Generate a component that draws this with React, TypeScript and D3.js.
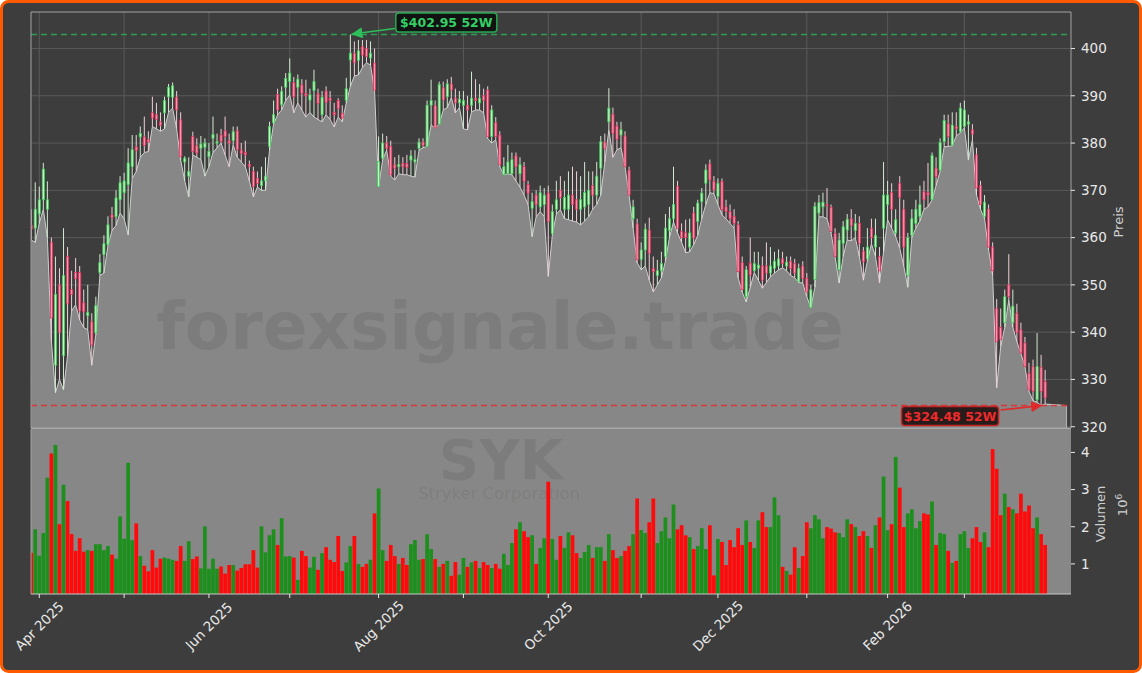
import React from "react";
import * as d3 from "d3";

const lows = [359.5,359,363,366,360,338,327.2,330,327.8,335,344.5,345.8,342.6,341,340.5,333,339.5,352,352.5,358.3,361.5,362.6,365.2,364,360.6,372.5,374,377,378,378.2,383.5,383,382.5,383,386.5,387.4,383,376.4,372,368.6,377.5,377,376.5,373,375,378,379,380,377.5,375,379.6,377,376,375,372,368.6,370.7,370,370,378.5,384,386,387,389,390.2,386.4,388.5,387,385.5,386.5,385.5,385,384.5,386,385,383.4,385.5,384.5,388.5,392,394.2,394.4,396,397,396.5,391,370.7,376.5,378.5,373,372.2,373.5,373.3,373.3,373,372.8,378.5,379,379.3,383.8,383.2,384,387,387.5,389.6,386.4,387.5,383,382.8,386.6,387,387,386.4,381,380,380.7,375,373.3,373.5,373.3,372,370.7,369,367,360.2,364.4,365.5,364.5,351.8,360.5,365,365.9,364,363.8,363.5,363.3,362.7,363.5,364.4,366,367,369,376,382.8,377,378.6,379,375,369,362,354.7,353.2,354,351,348.5,350,351.5,355,360,363.3,361,359,356.8,357,358.5,360.5,364,367,369.5,369.3,367,364.8,364,363,362,351.5,348.5,346.4,349.5,352.6,351,349.3,350.5,351.7,352.5,353.2,353.6,353,352,351.5,350.5,350.4,347.5,345.2,349.5,364.4,364.4,364,361,356,350.4,356,359.5,359.3,360,356,351,355,358.7,356,350.4,357,363.8,362,360.2,357.8,354,349.5,360,362,363.5,366,366.5,368,371,374,379.2,379.3,379.4,381.5,382.2,383.2,376.4,380.7,369,366,364,357.4,352,328.2,337,341,346.8,341,338,335.5,332.7,327.5,325.5,325.2,324.48,324.8];

const opens = [362.6,362,365,368,366,359,333,350,335,356,349,352.6,352.6,346.2,343.5,342.2,339.9,352.6,356.4,358.5,364.8,364.4,368,369.5,371.2,375,379.2,381.3,381.3,380.8,386.4,386,384.5,386.4,389.8,389.7,389.7,384.9,376,373,381.4,379.5,378.9,379.1,377.1,381,380,381.7,382.6,380.5,380.5,382.6,378.5,378,375.5,374,372.5,371,372,379.3,384.3,390.3,388.1,391.8,393,392.8,391.8,392.3,390.5,389.1,391.1,390.4,386,391,389.5,386.5,389,386.3,389,397.6,399,397.5,400.4,400,398,396.9,370.8,376.8,380,379.3,375.4,375,375.7,375.7,376.4,376,378.9,380.2,379.3,388,387.9,384,391.7,389.8,392.5,389.5,388.5,388,388,388,389.5,388.5,390,391.2,381.4,384.3,381.7,373.3,373.6,373.5,377.3,373.5,375,371.2,366.2,369,366.5,367,369.4,360.9,366,370,366,366,369,368,366,366.5,367,371,369,374.7,380.2,384.5,386.1,383.6,381.7,381.5,374.3,364,362.9,355.4,357.4,361.6,353.5,352,353,356,361.5,364,370.8,361.3,361,358,365.2,363.4,367.6,371.5,375.6,371.9,368.7,371.9,366.5,365.5,364.5,362.7,354.7,347.5,354.6,353,353.5,354,354,352.5,353.5,354,355.5,354,355,354.5,350.7,354,351.4,345.2,351.1,365.2,366.5,367,366.4,360.9,353.2,358.8,361.6,364,361.5,363,357.1,355.5,362,358,356,362,367,369.5,361,371.5,366,352,360.5,363,364.5,369.7,369.5,368,374.7,374.3,380.3,384.1,379.6,383.5,382.4,383.5,384,382.8,377.5,371,364.5,366,358,345,341,342,350,342,344,340.5,337.7,331.3,332.7,325.7,332.6,329.6];

const closes = [361.8,366,368,374.5,368,343,348,340,352,346,348,351.3,344.5,344.3,344.2,337.3,345.6,354.7,358.7,362.7,364.2,368.4,371.6,372,375.8,378.6,378.4,382,379.5,380.2,385.3,385,383.7,389,391.8,392.1,387,377.1,376.8,374,378.2,377.9,379.8,380,378.2,381.8,380.3,380.3,381.4,380,382.4,378.6,377.8,377.5,375,370.8,371.5,372,373,383.5,386,387,390.9,393.7,394.8,389.8,393.5,390.5,390,390.2,393,388.4,389.7,388.6,389,386,387.3,385.3,391.5,399,397,399.5,398.6,398.3,399,391.2,376.1,380,378.9,373.3,374.7,375.5,375,374.8,377.3,376.5,380.2,379.5,388,389,383.2,392.4,389.1,392.5,391.2,388.5,389.3,389,387,389.5,389,389.5,389,381.4,387,381.4,375.4,375,376,376.5,375,375.5,371.9,369.4,367.6,367,369.5,369,363.4,365.5,368,368.5,368.5,369,367,366,368,369.5,370,369,373,380.3,378.9,387.4,382,380.8,382.8,375,369,366.5,355.3,357.4,361.8,356.7,352.8,353,354.5,362,364,367,362,360,360,361,359.9,367.3,369.4,374.3,372.2,370.1,371.5,365.9,365.5,364,363,352.8,349,353.2,352.1,354.5,354.2,351,352.5,354,355,355.5,354.5,354.8,353.5,352.5,353.5,351.4,348.5,349,366.6,367.4,367.5,366.7,361.3,356,359.5,362.3,363.9,362.5,363,358.8,354.9,358,360,360.5,353,369,369,366,363.8,368.5,358,360,364,366,367,368,369,377.4,372.9,380.1,384.8,381.4,383.8,383,387.4,387,384.5,381.9,370.5,367,367.5,358,353,338,338.5,347.5,347.5,345.5,340,335.6,332.7,327.8,327.5,332.7,327.5,326.1];

const highs = [366,371.7,370.8,375.8,371.9,360,356,353.5,362,358,353,355.7,354,349,350,344,347.5,356.5,360.5,364.5,366.5,370,373,373.7,378.9,381.7,381.7,383.5,385.6,382.5,389.8,388.5,386.5,389.8,392.5,392.8,391,386.5,377.2,377,382.4,381,381.5,381,380,385.6,382,383,385.6,382,383.5,383.5,380,380.5,376.3,375,374,375,377,384.5,389,391.5,392,394.8,397.9,394,394.5,393.5,393.4,391.5,395.5,391.5,391,392,391,388.5,389.5,388,393.8,402.95,401.5,401.8,401.8,401.8,401.5,400,381.4,382,381.5,380.5,377,377.5,377,377.5,378.5,378.5,381,381,389,393.4,389,393,393,393.5,394,391.5,391,391,390,395.1,393.5,392.5,391.5,392,388,385.5,382.5,377,379.6,378,378,377,376,372,369.5,370,371,370.5,371,367,372,373,372,374,375,374,373,376,374,374,376,381.5,382,391.6,387.5,384.5,384.5,382.5,375,368,364,359,363,364.2,356,355.3,357,365,366.5,375,372,363,363.8,364,366.5,368,370.5,375.5,376.5,373,372.5,372.5,368,367,366,363.5,356,354,360,357,357,356,359,358,357,357.5,357,356,356,355.5,354.5,355,352.5,350,367.5,369,369.5,370.5,367,362,361,363.5,365,366,365,364.5,358,362,364,364,358,376,372,371.5,366,373,368,361,366,368,371,372,375.8,378,377,381,386,386,386.5,386.5,388.5,389,386,384,379,372,369,367,359,347,345,349,356.5,349,346,342,339,333.5,334.2,339.8,335.2,332];

const volumes = [1.30,1.93,1.22,1.83,3.32,3.97,4.20,2.07,3.13,2.69,1.80,1.35,1.69,1.33,1.37,1.35,1.53,1.53,1.37,1.48,1.25,1.14,2.28,1.68,3.72,1.64,2.09,1.21,0.95,0.80,1.37,0.90,1.14,1.17,1.14,1.11,1.08,1.48,1.08,1.61,1.13,1.20,0.88,2.01,0.87,1.14,0.87,0.93,0.74,0.97,0.97,0.82,0.89,0.99,0.99,1.37,0.90,2.01,1.31,1.77,1.93,1.51,2.23,1.20,1.21,1.17,0.57,1.35,1.21,0.90,1.19,0.84,1.29,1.45,1.11,1.05,1.75,0.81,1.04,1.48,1.75,1.00,0.92,1.00,1.11,2.36,3.03,1.37,1.08,1.51,1.21,1.00,1.16,0.97,1.53,1.64,1.11,1.13,1.80,1.40,1.13,0.92,1.00,1.08,0.68,1.05,0.71,1.16,0.92,1.04,1.08,0.89,1.05,0.97,0.89,1.00,0.87,1.27,0.97,1.56,1.93,2.12,1.88,1.72,1.77,1.00,1.43,1.69,3.21,1.67,1.11,1.75,1.43,1.85,1.77,1.29,1.16,1.32,1.51,1.16,1.45,1.45,1.08,1.80,1.37,1.16,1.21,1.35,1.48,1.80,2.76,1.91,1.83,2.12,2.76,1.56,1.88,2.25,1.69,2.60,1.93,2.04,1.77,1.72,1.40,1.48,1.96,1.40,2.04,0.69,1.67,1.59,0.97,1.64,1.45,1.96,1.51,2.17,1.59,1.43,2.17,2.39,1.99,1.99,2.79,2.31,0.92,0.81,0.71,1.45,0.89,1.21,2.12,1.96,2.31,2.20,1.69,1.99,1.95,1.85,1.83,1.72,2.20,2.07,1.99,1.75,1.88,1.75,1.43,2.04,2.25,3.35,1.91,2.07,3.88,3.05,1.99,2.36,2.47,1.96,2.15,2.36,2.33,2.68,1.51,1.83,1.80,1.35,1.03,1.08,1.80,1.88,1.43,1.69,1.99,1.59,1.85,1.45,4.09,3.56,2.31,2.89,2.53,2.47,2.36,2.89,2.41,2.57,1.96,2.25,1.80,1.51];

const monthTickIndex = [2, 23, 44, 64, 86, 107, 128, 151, 170, 192, 212, 231];
const monthTickLabels = ["Apr 2025", "", "Jun 2025", "", "Aug 2025", "", "Oct 2025", "", "Dec 2025", "", "Feb 2026", ""];
const priceTicks = [320, 330, 340, 350, 360, 370, 380, 390, 400];
const volumeTicks = [1, 2, 3, 4];

const high52 = 402.95;
const high52Index = 79;
const low52 = 324.48;
const low52Index = 250;
const areaTailIndex = 256.3;

const FONT = "DejaVu Sans, Verdana, sans-serif";

export default function App() {
  const W = 1142, H = 673;
  const left = 31, right = 1071;
  const pTop = 12, pBottom = 428;
  const vTop = 429, vBottom = 594;

  const x = d3.scaleLinear().domain([-0.05, 257.4]).range([left, right]);
  const yP = d3.scaleLinear().domain([319.73, 407.72]).range([pBottom, pTop]);
  const yV = d3.scaleLinear().domain([0.19, 4.63]).range([vBottom, vTop]);

  const n = lows.length;
  const idx = d3.range(n);
  const areaData: [number, number][] = idx.map((i) => [i, lows[i]] as [number, number]);
  areaData.push([areaTailIndex, low52]);

  const areaGen = d3.area<[number, number]>().x((d) => x(d[0])).y0(pBottom).y1((d) => yP(d[1]));
  const lineGen = d3.line<[number, number]>().x((d) => x(d[0])).y((d) => yP(d[1]));

  const step = x(1) - x(0);
  const bodyW = step * 0.52;
  const volW = step * 0.92;

  const gridColor = "#5a5a5a";
  const spine = "#a3a3a3";
  const tickText = "#e8e8e8";

  const hx = x(high52Index), hy = yP(high52);
  const lx = x(low52Index), ly = yP(low52);

  const greenBox = { cx: hx + 96, cy: hy - 12, w: 101, h: 19 };
  const redBox = { cx: lx - 91, cy: ly + 10.5, w: 97, h: 19 };

  return (
    <svg width={W} height={H} style={{ position: "absolute", left: 0, top: 0 }} fontFamily={FONT}>
      <defs>
        <clipPath id="pclip"><rect x={left} y={pTop} width={right - left} height={pBottom - pTop} /></clipPath>
        <clipPath id="vclip"><rect x={left} y={vTop} width={right - left} height={vBottom - vTop} /></clipPath>
        <marker id="arrG" viewBox="0 0 10 10" refX="9" refY="5" markerWidth="7" markerHeight="7" orient="auto-start-reverse">
          <path d="M0,0 L10,5 L0,10 z" fill="#2fbf5a" />
        </marker>
        <marker id="arrR" viewBox="0 0 10 10" refX="9" refY="5" markerWidth="7" markerHeight="7" orient="auto-start-reverse">
          <path d="M0,0 L10,5 L0,10 z" fill="#e02a2a" />
        </marker>
      </defs>
      <rect x={0} y={0} width={W} height={H} fill="#ffffff" />
      <rect x={1.5} y={1.5} width={W - 3} height={H - 3} rx={7} ry={7} fill="#3d3d3d" stroke="#ff5a00" strokeWidth={3} />

      {/* price grid */}
      <g clipPath="url(#pclip)">
        {priceTicks.map((t) => (
          <line key={"pg" + t} x1={left} x2={right} y1={yP(t)} y2={yP(t)} stroke={gridColor} strokeWidth={1} />
        ))}
        {monthTickIndex.map((t) => (
          <line key={"vg" + t} x1={x(t)} x2={x(t)} y1={pTop} y2={pBottom} stroke={gridColor} strokeWidth={1} />
        ))}
        <path d={areaGen(areaData) || ""} fill="#878787" />
        <path d={lineGen(areaData) || ""} fill="none" stroke="#cfcfcf" strokeWidth={1} />
        <line x1={x(areaTailIndex)} x2={x(areaTailIndex)} y1={yP(low52)} y2={pBottom} stroke="#b5b5b5" strokeWidth={1} />
      </g>

      {/* watermark */}
      <text x={500} y={348.5} textAnchor="middle" fontSize={66} fontWeight="bold" fill="#000" fillOpacity={0.08}>forexsignale.trade</text>

      {/* candles */}
      <g clipPath="url(#pclip)">
        {idx.map((i) => {
          const up = closes[i] >= opens[i];
          const cx = x(i);
          const top = yP(Math.max(opens[i], closes[i]));
          const bot = yP(Math.min(opens[i], closes[i]));
          return (
            <g key={"c" + i}>
              <line x1={cx} x2={cx} y1={yP(highs[i])} y2={yP(lows[i])} stroke={up ? "#d2ead2" : "#f0d0d8"} strokeWidth={1} />
              <rect x={cx - bodyW / 2} y={top} width={bodyW} height={Math.max(bot - top, 0.8)}
                fill={up ? "#cdefcd" : "#f59ab0"} stroke={up ? "#3ccf55" : "#e6335f"} strokeWidth={0.8} />
            </g>
          );
        })}
      </g>

      {/* 52w lines */}
      <line x1={left} x2={right} y1={hy} y2={hy} stroke="#2f9e55" strokeWidth={1.5} strokeDasharray="6,4" />
      <line x1={left} x2={right} y1={ly} y2={ly} stroke="#d93636" strokeWidth={1.5} strokeDasharray="6,4" />

      {/* price spines */}
      <line x1={left} x2={right} y1={pTop} y2={pTop} stroke={spine} strokeWidth={1} />
      <line x1={left} x2={left} y1={pTop} y2={pBottom} stroke={spine} strokeWidth={1} />
      <line x1={right} x2={right} y1={pTop} y2={pBottom} stroke={spine} strokeWidth={1} />

      {/* price ticks */}
      {priceTicks.map((t) => (
        <g key={"pt" + t}>
          <line x1={right} x2={right + 4} y1={yP(t)} y2={yP(t)} stroke={tickText} strokeWidth={1} />
          <text x={right + 10} y={yP(t)} dy="0.36em" fontSize={13.5} fill={tickText}>{t}</text>
        </g>
      ))}
      <text transform={`translate(${1123},${222}) rotate(-90)`} textAnchor="middle" fontSize={13} fill="#cfcfcf">Preis</text>

      {/* volume panel */}
      <rect x={left} y={vTop} width={right - left} height={vBottom - vTop} fill="#878787" />
      <text x={501} y={479} textAnchor="middle" fontSize={56} fontWeight="bold" fill="#000" fillOpacity={0.08}>SYK</text>
      <text x={499} y={499} textAnchor="middle" fontSize={16.5} fill="#000" fillOpacity={0.08}>Stryker Corporation</text>
      <g clipPath="url(#vclip)">
        {idx.map((i) => {
          const up = closes[i] >= opens[i];
          return (
            <rect key={"v" + i} x={x(i) - volW / 2} y={yV(volumes[i])} width={volW} height={vBottom - yV(volumes[i])}
              fill={up ? "#1d8f1d" : "#ff0a0a"} />
          );
        })}
      </g>
      <line x1={left} x2={right} y1={428.3} y2={428.3} stroke="#a8a8a8" strokeWidth={1.5} />
      <line x1={left} x2={left} y1={vTop} y2={vBottom} stroke={spine} strokeWidth={1} />
      <line x1={left} x2={right} y1={vBottom} y2={vBottom} stroke="#c8c8c8" strokeWidth={1} />

      {volumeTicks.map((t) => (
        <g key={"vt" + t}>
          <line x1={right} x2={right + 4} y1={yV(t)} y2={yV(t)} stroke={tickText} strokeWidth={1} />
          <text x={right + 10} y={yV(t)} dy="0.36em" fontSize={13.5} fill={tickText}>{t}</text>
        </g>
      ))}
      <text transform={`translate(${1105},${514}) rotate(-90)`} textAnchor="middle" fontSize={13} fill="#cfcfcf">Volumen</text>
      <text transform={`translate(${1127},${505}) rotate(-90)`} textAnchor="middle" fontSize={13} fill="#cfcfcf">
        10<tspan dy="-5" fontSize={9}>6</tspan>
      </text>

      {/* x ticks */}
      {monthTickIndex.map((t, k) => (
        <g key={"xt" + t}>
          <line x1={x(t)} x2={x(t)} y1={vBottom} y2={vBottom + 4} stroke={tickText} strokeWidth={1} />
          {monthTickLabels[k] && (
            <text transform={`translate(${x(t)},${626}) rotate(-45)`} textAnchor="middle" dy="0.35em" fontSize={13.5} fill={tickText}>
              {monthTickLabels[k]}
            </text>
          )}
        </g>
      ))}

      {/* annotations */}
      <line x1={greenBox.cx - greenBox.w / 2 - 1} y1={greenBox.cy + 6} x2={hx + 2} y2={hy - 0.5} stroke="#2fbf5a" strokeWidth={1.6} markerEnd="url(#arrG)" />
      <rect x={greenBox.cx - greenBox.w / 2} y={greenBox.cy - greenBox.h / 2} width={greenBox.w} height={greenBox.h} rx={3}
        fill="#0b0b0b" fillOpacity={0.85} stroke="#27a951" strokeWidth={1.5} />
      <text x={greenBox.cx} y={greenBox.cy} dy="0.36em" textAnchor="middle" fontSize={12.5} fontWeight="bold" fill="#33d066">
        {"$" + high52.toFixed(2) + " 52W"}
      </text>

      <line x1={redBox.cx + redBox.w / 2 + 2} y1={redBox.cy - 6} x2={lx} y2={ly} stroke="#e02a2a" strokeWidth={1.6} markerEnd="url(#arrR)" />
      <rect x={redBox.cx - redBox.w / 2} y={redBox.cy - redBox.h / 2} width={redBox.w} height={redBox.h} rx={3}
        fill="#1a0808" fillOpacity={0.85} stroke="#c42626" strokeWidth={1.5} />
      <text x={redBox.cx} y={redBox.cy} dy="0.36em" textAnchor="middle" fontSize={12.5} fontWeight="bold" fill="#ee2a2a">
        {"$" + low52.toFixed(2) + " 52W"}
      </text>
    </svg>
  );
}
